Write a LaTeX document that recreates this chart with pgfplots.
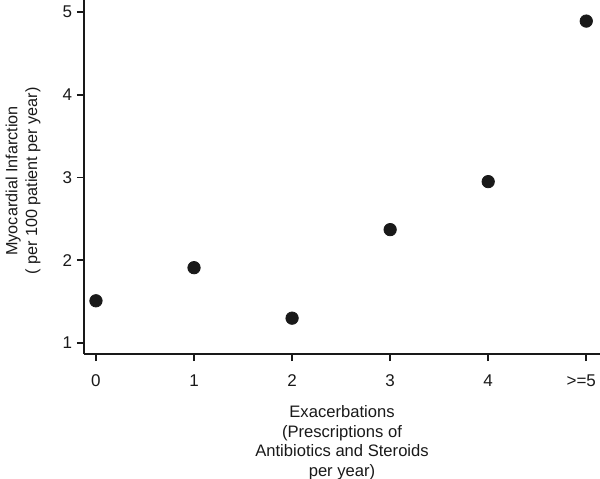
\documentclass[border=0pt]{standalone}
\usepackage{fontspec}
\setmainfont{Liberation Sans}
\usepackage{pgfplots}
\pgfplotsset{compat=1.18}
\definecolor{ink}{RGB}{25,25,25}

\begin{document}
\begin{tikzpicture}
\begin{axis}[
    name=ax,
    scale only axis,
    width=258bp, height=177bp,
    xmin=-0.122, xmax=5.14,
    ymin=0.867, ymax=5.145,
    axis lines=left,
    axis line style={-, line width=0.9bp, ink},
    tick style={line width=0.9bp, ink},
    tick align=outside,
    major tick length=3.5bp,
    xtick={0,1,2,3,4,5},
    xticklabels={0,1,2,3,4,\hspace*{-5bp}>=5},
    ytick={1,2,3,4,5},
    /pgf/number format/assume math mode=true,
    tick label style={font=\fontsize{8.5bp}{10bp}\selectfont, text=ink},
    xticklabel style={yshift=-3.5bp},
    yticklabel style={xshift=1bp},
    label style={text=ink, align=center},
    xlabel={Exacerbations\\(Prescriptions of\\Antibiotics and Steroids\\per year)},
    ylabel={Myocardial Infarction\\( per 100 patient per year)},
    xlabel style={font=\fontsize{8.3bp}{9.75bp}\selectfont,
        at={(axis description cs:0.5,-0.126)}, anchor=north},
    ylabel style={font=\fontsize{8.1bp}{9.9bp}\selectfont,
        at={(axis description cs:-0.118,0.489)}, anchor=center, rotate=0},
    clip=false,
]
    \addplot[only marks, mark=*, mark size=3.1bp, ink] coordinates {
        (0,1.51) (1,1.91) (2,1.30) (3,2.37) (4,2.95) (5,4.89)
    };
\end{axis}
\pgfresetboundingbox
\path ([shift={(-42bp,-62.5bp)}]ax.south west) rectangle (ax.north east);
\end{tikzpicture}
\end{document}
